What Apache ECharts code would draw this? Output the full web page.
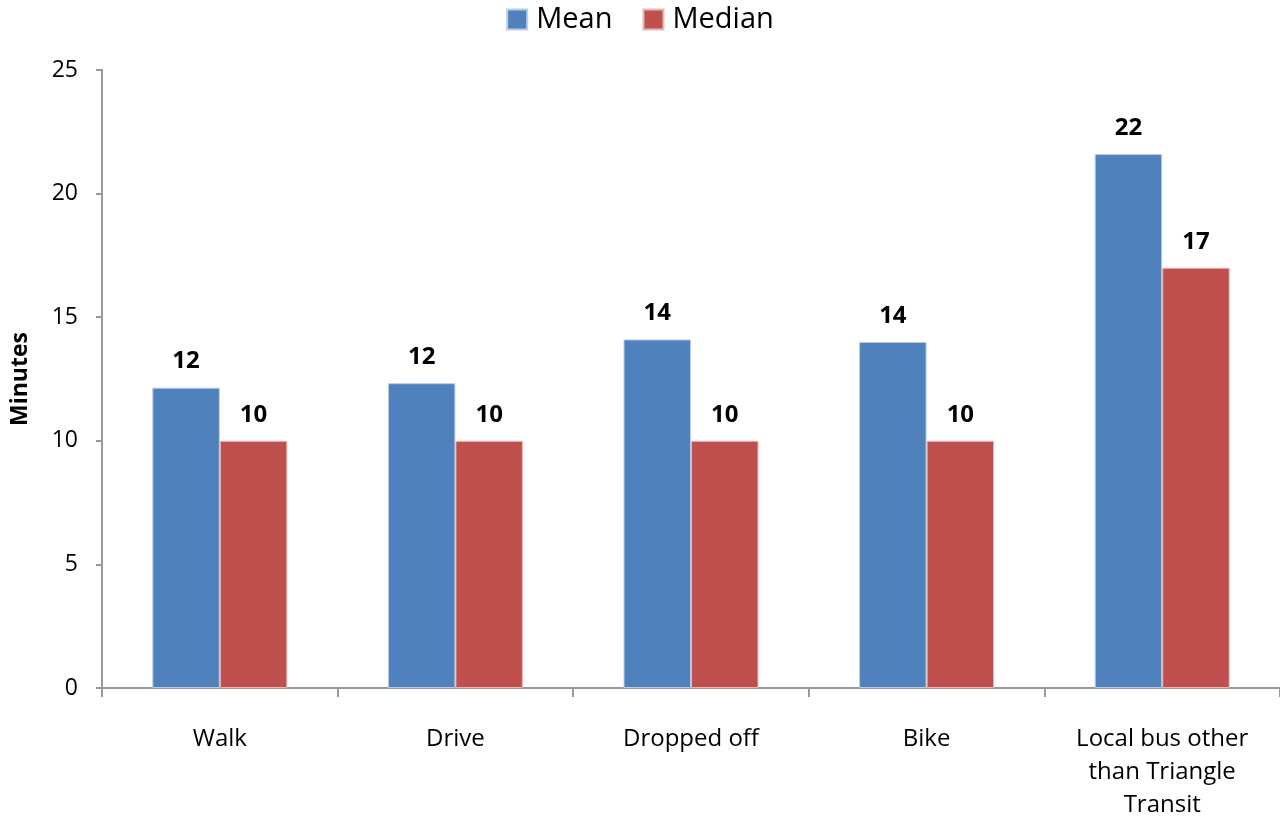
<!DOCTYPE html>
<html>
<head>
<meta charset="utf-8">
<script src="https://cdn.jsdelivr.net/npm/echarts@6/dist/echarts.min.js"></script>
<style>
	html, body { margin: 0; padding: 0; background: #fff; }
	#chart { width: 1280px; height: 822px; }
</style>
</head>
<body>
<div id="chart"></div>
<script>
	// 数据
	const categories = ['Walk', 'Drive', 'Dropped off', 'Bike', 'Local bus other\nthan Triangle\nTransit']
	const meanValues = [12.15, 12.33, 14.1, 14.0, 21.6]
	const medianValues = [10, 10, 10, 10, 17]
	const yTicks = [0, 5, 10, 15, 20, 25]

	const font = '"Open Sans", "Noto Sans", sans-serif'
	let myChart = echarts.init(document.getElementById('chart'))

	const labelStyle = {
		show: true,
		position: 'top',
		distance: 14,
		fontFamily: font,
		fontSize: 24,
		fontWeight: 'bold',
		color: '#000',
		formatter: p => Math.round(p.value)
	}

	myChart.setOption({
		animation: false,
		textStyle: { fontFamily: font },
		legend: {
			top: 0,
			left: 'center',
			icon: 'rect',
			itemWidth: 20,
			itemHeight: 20,
			itemGap: 30,
			textStyle: { fontSize: 29, color: '#000', fontFamily: font, padding: [0, 0, 0, 4] },
			data: ['Mean', 'Median']
		},
		grid: {
			left: 102,
			right: 0,
			top: 70,
			bottom: 132
		},
		xAxis: {
			type: 'category',
			data: categories,
			axisLine: { lineStyle: { color: '#999', width: 2 } },
			axisTick: { show: true, length: 9, lineStyle: { color: '#999', width: 2 } },
			axisLabel: {
				color: '#000',
				fontSize: 24,
				fontFamily: font,
				margin: 35,
				lineHeight: 33,
				verticalAlign: 'top'
			}
		},
		yAxis: {
			type: 'value',
			min: yTicks[0],
			max: yTicks[yTicks.length - 1],
			interval: 5,
			name: 'Minutes',
			nameLocation: 'middle',
			nameGap: 70,
			nameTextStyle: { fontSize: 23, fontWeight: 'bold', color: '#000', fontFamily: font },
			splitLine: { show: false },
			axisLine: { show: true, lineStyle: { color: '#999', width: 2 } },
			axisTick: { show: true, length: 6, lineStyle: { color: '#999', width: 2 } },
			axisLabel: { color: '#000', fontSize: 23, fontFamily: font, margin: 24 }
		},
		series: [
			{
				name: 'Mean',
				type: 'bar',
				data: meanValues,
				barGap: '0%',
				barCategoryGap: '42.7%',
				itemStyle: { color: '#4f81bd', borderColor: '#b9cde5', borderWidth: 1 },
				label: labelStyle
			},
			{
				name: 'Median',
				type: 'bar',
				data: medianValues,
				itemStyle: { color: '#c0504d', borderColor: '#e6b9b8', borderWidth: 1 },
				label: labelStyle
			}
		]
	})
</script>
</body>
</html>
